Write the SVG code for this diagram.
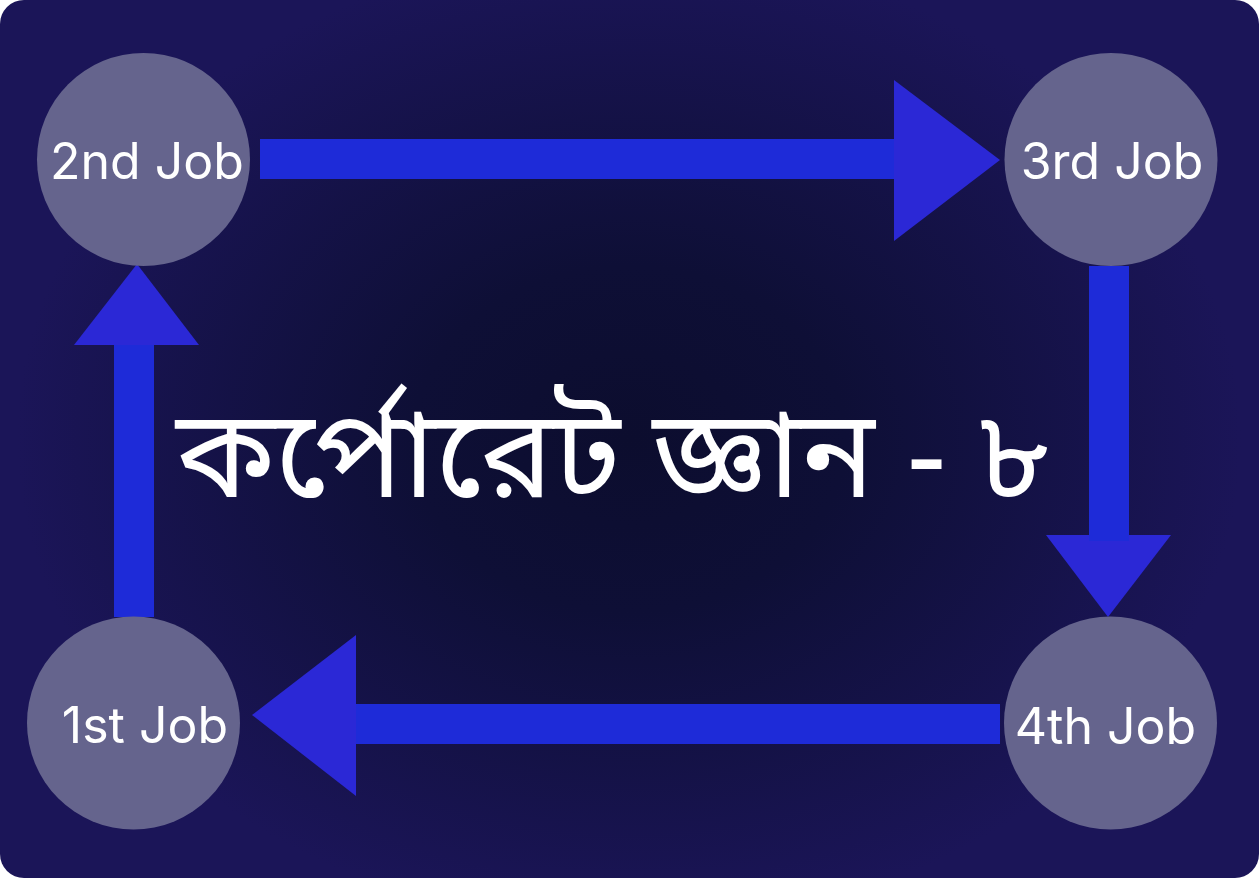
<svg xmlns="http://www.w3.org/2000/svg" width="1259" height="878" viewBox="0 0 1259 878">
<defs>
<radialGradient id="bg" cx="629" cy="439" r="720" gradientUnits="userSpaceOnUse" gradientTransform="translate(629 439) scale(1 0.8) translate(-629 -439)">
<stop offset="0" stop-color="#0c0d2e"/>
<stop offset="0.3" stop-color="#0e0f36"/>
<stop offset="0.85" stop-color="#1b1558"/>
<stop offset="1" stop-color="#1b1558"/>
</radialGradient>
<style>
.node{fill:#65648d;}
.lbl{fill:#ffffff;font-family:Inter,"Noto Sans",sans-serif;font-size:50px;text-anchor:middle;}
.shaft{fill:#1e2bd8;}
.head{fill:#2b28d6;}
.title{fill:#ffffff;font-family:"Noto Sans Bengali","Noto Sans","Noto Serif Bengali",sans-serif;font-size:123px;}
</style>
</defs>
<rect x="0" y="0" width="1259" height="878" fill="#ffffff"/>
<rect x="0" y="0" width="1259" height="878" rx="24" ry="24" fill="url(#bg)"/>
<g id="connectors">
<g id="arrow-2-3"><rect class="shaft" x="260" y="139" width="636" height="40"/><polygon class="head" points="894,80 1000,160 894,241"/></g>
<g id="arrow-3-4"><polygon class="head" points="1046,535 1171,535 1108,617"/><rect class="shaft" x="1089" y="266" width="40" height="275"/></g>
<g id="arrow-4-1"><rect class="shaft" x="354" y="704" width="646" height="40"/><polygon class="head" points="356,635 356,796 252,715"/></g>
<g id="arrow-1-2"><rect class="shaft" x="114" y="343" width="40" height="274"/><polygon class="head" points="74,345 199,345 137,264"/></g>
</g>
<g id="node-2nd"><circle class="node" cx="143.5" cy="159.5" r="106.5"/><text class="lbl" x="147" y="179">2nd Job</text></g>
<g id="node-3rd"><circle class="node" cx="1111" cy="159.5" r="106.5"/><text class="lbl" x="1112" y="179">3rd Job</text></g>
<g id="node-4th"><circle class="node" cx="1110.5" cy="723" r="106.5"/><text class="lbl" x="1105.5" y="744">4th Job</text></g>
<g id="node-1st"><circle class="node" cx="133.5" cy="723" r="106.5"/><text class="lbl" x="145" y="743">1st Job</text></g>
<text class="title" x="176" y="497">কর্পোরেট জ্ঞান - ৮</text>
</svg>
